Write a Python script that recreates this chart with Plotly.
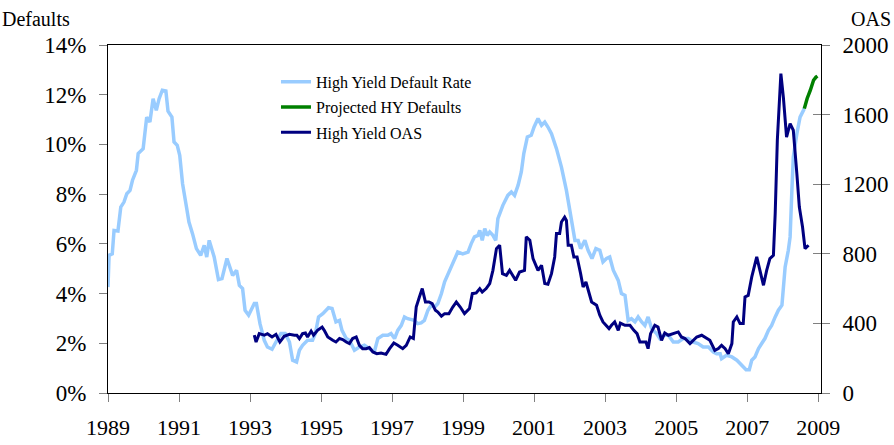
import plotly.graph_objects as go

# ---- data ----
default_years = [1989.00, 1989.03, 1989.12, 1989.17, 1989.28, 1989.36, 1989.45, 1989.53, 1989.62, 1989.69,
                 1989.80, 1989.85, 1989.99, 1990.09, 1990.18, 1990.27, 1990.36, 1990.44, 1990.53, 1990.63,
                 1990.69, 1990.80, 1990.86, 1990.95, 1991.02, 1991.10, 1991.21, 1991.28, 1991.38, 1991.49,
                 1991.61, 1991.71, 1991.78, 1991.85, 1991.99, 1992.11, 1992.21, 1992.35, 1992.51, 1992.62,
                 1992.70, 1992.79, 1992.86, 1992.96, 1993.12, 1993.18, 1993.28, 1993.40, 1993.49, 1993.62,
                 1993.73, 1993.87, 1993.99, 1994.11, 1994.20, 1994.31, 1994.39, 1994.48, 1994.62, 1994.76,
                 1994.84, 1994.93, 1995.05, 1995.21, 1995.31, 1995.42, 1995.52, 1995.59, 1995.71, 1995.80,
                 1995.94, 1996.08, 1996.22, 1996.36, 1996.50, 1996.60, 1996.74, 1996.88, 1996.97, 1997.07,
                 1997.16, 1997.26, 1997.35, 1997.44, 1997.54, 1997.63, 1997.72, 1997.82, 1997.91, 1998.01,
                 1998.10, 1998.20, 1998.29, 1998.39, 1998.48, 1998.62, 1998.76, 1998.85, 1998.99, 1999.14,
                 1999.23, 1999.32, 1999.42, 1999.47, 1999.54, 1999.61, 1999.68, 1999.75, 1999.84, 1999.92,
                 1999.98, 2000.12, 2000.26, 2000.36, 2000.45, 2000.55, 2000.64, 2000.71, 2000.81, 2000.92,
                 2001.00, 2001.11, 2001.21, 2001.30, 2001.39, 2001.49, 2001.63, 2001.77, 2001.91, 2002.00,
                 2002.10, 2002.15, 2002.24, 2002.31, 2002.43, 2002.52, 2002.63, 2002.74, 2002.85, 2002.94,
                 2003.04, 2003.13, 2003.23, 2003.37, 2003.46, 2003.56, 2003.65, 2003.74, 2003.84, 2003.93,
                 2004.03, 2004.12, 2004.21, 2004.31, 2004.45, 2004.54, 2004.64, 2004.78, 2004.92, 2005.06,
                 2005.20, 2005.34, 2005.48, 2005.62, 2005.76, 2005.91, 2006.05, 2006.14, 2006.24, 2006.28,
                 2006.42, 2006.57, 2006.71, 2006.85, 2006.97, 2007.06, 2007.13, 2007.22, 2007.32, 2007.41,
                 2007.50, 2007.60, 2007.69, 2007.79, 2007.88, 2007.98, 2008.02, 2008.07, 2008.16, 2008.21,
                 2008.26, 2008.30, 2008.40, 2008.49, 2008.61]
default_rate = [4.26, 5.54, 5.60, 6.54, 6.52, 7.48, 7.68, 8.02, 8.15, 8.56,
                8.96, 9.63, 9.83, 11.10, 10.90, 11.84, 11.37, 11.84, 12.18, 12.15,
                11.34, 11.10, 10.10, 9.96, 9.56, 8.42, 7.48, 6.88, 6.41, 5.81,
                5.54, 5.94, 5.47, 6.14, 5.47, 4.56, 4.60, 5.41, 4.73, 4.94,
                4.33, 4.20, 3.33, 3.13, 3.60, 3.60, 2.79, 2.12, 1.85, 1.76,
                2.05, 2.39, 2.39, 2.05, 1.32, 1.25, 1.72, 1.92, 2.12, 2.12,
                2.39, 3.06, 3.19, 3.43, 3.40, 2.86, 2.92, 2.52, 2.19, 2.12,
                1.72, 1.85, 1.92, 1.79, 1.65, 2.19, 2.32, 2.32, 2.39, 2.19,
                2.52, 2.72, 3.06, 2.99, 2.95, 2.92, 2.79, 2.82, 2.92, 3.33,
                3.53, 3.46, 3.60, 4.00, 4.47, 4.94, 5.34, 5.67, 5.60, 5.67,
                6.01, 6.28, 6.34, 6.54, 6.14, 6.61, 6.34, 6.48, 6.34, 6.14,
                7.01, 7.55, 7.95, 8.09, 7.95, 8.36, 8.89, 9.63, 10.30, 10.37,
                10.70, 11.04, 10.77, 10.90, 10.70, 10.43, 9.83, 9.09, 8.15, 7.35,
                6.40, 6.14, 6.14, 5.81, 6.14, 5.74, 5.41, 5.81, 5.74, 5.27,
                5.41, 5.47, 4.94, 4.53, 4.00, 3.93, 2.92, 2.99, 2.86, 3.06,
                2.86, 2.72, 3.06, 2.59, 2.39, 2.19, 2.32, 2.32, 2.05, 2.05,
                2.19, 2.19, 2.05, 1.99, 1.85, 1.85, 1.65, 1.58, 1.58, 1.38,
                1.52, 1.45, 1.32, 1.11, 0.94, 0.94, 1.32, 1.45, 1.79, 1.99,
                2.19, 2.52, 2.72, 3.06, 3.33, 3.53, 4.40, 5.07, 5.74, 6.28,
                8.15, 9.49, 10.43, 11.10, 11.44]

proj_years = [2008.61, 2008.69, 2008.78, 2008.87, 2008.94, 2008.98]
proj_defaults = [11.44, 11.85, 12.18, 12.58, 12.71, 12.75]

oas_years = [1993.12, 1993.17, 1993.26, 1993.40, 1993.49, 1993.62, 1993.73, 1993.84, 1993.96, 1994.11,
             1994.25, 1994.32, 1994.39, 1994.48, 1994.56, 1994.62, 1994.72, 1994.79, 1994.90, 1995.03,
             1995.09, 1995.19, 1995.33, 1995.42, 1995.52, 1995.61, 1995.71, 1995.80, 1995.89, 1995.99,
             1996.08, 1996.17, 1996.27, 1996.36, 1996.46, 1996.57, 1996.69, 1996.83, 1996.93, 1997.05,
             1997.16, 1997.30, 1997.40, 1997.51, 1997.60, 1997.68, 1997.77, 1997.85, 1997.94, 1998.04,
             1998.13, 1998.22, 1998.29, 1998.39, 1998.48, 1998.60, 1998.71, 1998.81, 1998.92, 1999.04,
             1999.18, 1999.26, 1999.37, 1999.47, 1999.54, 1999.65, 1999.75, 1999.84, 1999.94, 2000.03,
             2000.11, 2000.22, 2000.31, 2000.40, 2000.48, 2000.59, 2000.73, 2000.78, 2000.88, 2000.97,
             2001.11, 2001.21, 2001.30, 2001.39, 2001.49, 2001.58, 2001.63, 2001.72, 2001.77, 2001.86,
             2001.91, 2001.96, 2002.05, 2002.12, 2002.21, 2002.31, 2002.38, 2002.46, 2002.55, 2002.62,
             2002.76, 2002.85, 2002.94, 2003.11, 2003.18, 2003.27, 2003.37, 2003.43, 2003.56, 2003.70,
             2003.81, 2003.90, 2003.98, 2004.07, 2004.15, 2004.21, 2004.28, 2004.40, 2004.49, 2004.59,
             2004.68, 2004.78, 2004.92, 2005.06, 2005.15, 2005.25, 2005.39, 2005.48, 2005.58, 2005.72,
             2005.86, 2005.95, 2006.09, 2006.19, 2006.28, 2006.38, 2006.47, 2006.57, 2006.61, 2006.71,
             2006.80, 2006.89, 2006.94, 2007.03, 2007.13, 2007.27, 2007.36, 2007.46, 2007.55, 2007.64,
             2007.74, 2007.79, 2007.85, 2007.95, 2008.02, 2008.11, 2008.21, 2008.30, 2008.40, 2008.47,
             2008.56, 2008.63, 2008.73]
oas_bps = [332, 293, 341, 332, 341, 322, 337, 293, 326, 337,
           332, 332, 313, 341, 345, 322, 356, 332, 360, 379,
           360, 322, 303, 293, 313, 307, 293, 284, 313, 322,
           274, 255, 255, 261, 236, 226, 230, 222, 255, 287,
           274, 255, 274, 322, 313, 494, 552, 600, 523, 523,
           514, 475, 465, 441, 456, 456, 494, 523, 494, 456,
           485, 571, 575, 600, 580, 600, 629, 705, 830, 849,
           686, 676, 705, 676, 648, 695, 705, 897, 878, 772,
           705, 734, 629, 625, 686, 782, 916, 916, 983, 1011,
           992, 849, 849, 782, 782, 686, 609, 638, 571, 523,
           504, 447, 408, 370, 389, 408, 360, 402, 389, 389,
           360, 341, 293, 293, 293, 255, 341, 389, 379, 303,
           345, 332, 341, 351, 322, 313, 284, 303, 322, 332,
           313, 303, 245, 255, 274, 255, 226, 284, 408, 437,
           399, 399, 552, 561, 667, 782, 705, 619, 705, 772,
           791, 1031, 1452, 1836, 1701, 1471, 1548, 1510, 1261, 1069,
           954, 830, 849]

assert len(default_years) == len(default_rate)
assert len(oas_years) == len(oas_bps)

year_ticks = [1989, 1991, 1993, 1995, 1997, 1999, 2001, 2003, 2005, 2007, 2009]
default_ticks = [0, 2, 4, 6, 8, 10, 12, 14]
oas_ticks = [0, 400, 800, 1200, 1600, 2000]

FONT = "Liberation Serif"
LIGHT = "#99CCFF"
NAVY = "#000080"
GREEN = "#008000"

fig = go.Figure()
fig.add_trace(go.Scatter(x=default_years, y=default_rate, mode="lines",
                         name="High Yield Default Rate", legendgroup="a",
                         line=dict(color=LIGHT, width=3.5)))
fig.add_trace(go.Scatter(x=proj_years, y=proj_defaults, mode="lines",
                         name="Projected HY Defaults", legendgroup="b",
                         line=dict(color=GREEN, width=3.5)))
fig.add_trace(go.Scatter(x=oas_years, y=oas_bps, mode="lines", yaxis="y2",
                         name="High Yield OAS", legendgroup="c",
                         line=dict(color=NAVY, width=3)))
# invisible helper so the inside-tick overlay axis is drawn
fig.add_trace(go.Scatter(x=[oas_years[0]], y=[oas_bps[0]], mode="lines", yaxis="y3",
                         showlegend=False, hoverinfo="skip", line=dict(width=0)))

fig.update_layout(
    width=894, height=445,
    margin=dict(l=108, r=73, t=45, b=52, autoexpand=False),
    paper_bgcolor="white", plot_bgcolor="white",
    font=dict(family=FONT, size=23, color="black"),
    showlegend=True,
    legend=dict(x=0.2356, y=0.943, xanchor="left", yanchor="top",
                bgcolor="rgba(0,0,0,0)", borderwidth=0,
                font=dict(family=FONT, size=16, color="black"),
                tracegroupgap=1.5, traceorder="grouped"),
    xaxis=dict(range=[1989, 2009.08], tickvals=year_ticks, ticktext=[str(y) for y in year_ticks],
               tickfont=dict(family=FONT, size=22, color="black"),
               showgrid=False, zeroline=False, showline=True, linecolor="black", linewidth=1,
               mirror=True, ticks="outside", ticklen=8, tickcolor="#808080",
               ticklabelstandoff=7, automargin=False),
    yaxis=dict(range=[0, 14], tickvals=default_ticks, ticktext=[f"{v}%" for v in default_ticks],
               showgrid=False, zeroline=False, showline=True, linecolor="black", linewidth=1,
               ticks="outside", ticklen=8, tickcolor="#808080", ticklabelstandoff=8,
               automargin=False),
    yaxis2=dict(range=[0, 2000], tickvals=oas_ticks, ticktext=[str(v) for v in oas_ticks],
                overlaying="y", side="right", anchor="x",
                showgrid=False, zeroline=False, showline=True, linecolor="black", linewidth=1,
                ticks="outside", ticklen=8, tickcolor="#808080", ticklabelstandoff=8,
                automargin=False),
    yaxis3=dict(range=[0, 2000], tickvals=oas_ticks, overlaying="y", side="right", anchor="x",
                showgrid=False, zeroline=False, showline=False, showticklabels=False,
                ticks="inside", ticklen=8, tickcolor="#808080", automargin=False),
    annotations=[
        dict(text="Defaults", xref="paper", yref="paper", x=-0.1515, y=1.0747,
             xanchor="left", yanchor="middle", showarrow=False,
             font=dict(family=FONT, size=20, color="black")),
        dict(text="OAS", xref="paper", yref="paper", x=1.101, y=1.0747,
             xanchor="right", yanchor="middle", showarrow=False,
             font=dict(family=FONT, size=20, color="black")),
    ],
)

fig.write_html("out.html", config={"displayModeBar": False},
               post_script="document.body.style.margin='0px';document.body.style.overflow='hidden';")
